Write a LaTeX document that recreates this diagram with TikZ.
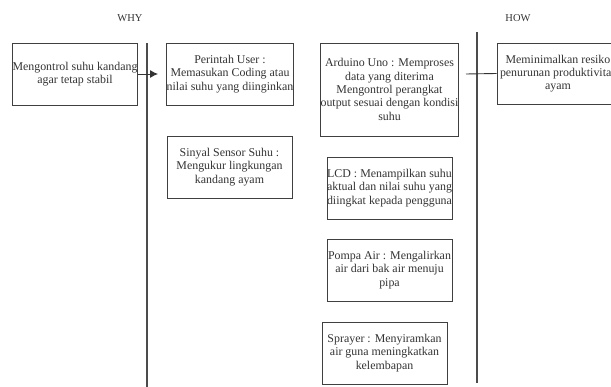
\documentclass[tikz,border=0pt]{standalone}
\usepackage{fontspec}
\setmainfont{Liberation Serif}
\usetikzlibrary{arrows.meta}

\begin{document}
\begin{tikzpicture}
[
  x = 1pt, y = -1pt,
  block/.style   = {shape=rectangle, draw=black!75, line width=0.9pt,
                    align=center, inner sep=0pt, text=black!80,
                    font=\fontsize{11.9}{13.3}\selectfont},
  small/.style   = {block, minimum width=125pt, minimum height=62pt},
  heading/.style = {text=black!80, font=\fontsize{10.5}{12}\selectfont},
  divider/.style = {draw=black!70, line width=1.1pt},
  link/.style    = {draw=black!80, line width=0.9pt}
]
\useasboundingbox (0,0) rectangle (611,387);
\clip (0,0) rectangle (611,387);

% headings
\node [heading] (why) at (130,18) {WHY};
\node [heading] (how) at (518,18) {HOW};

% why column
\node [small, minimum width=124pt] (goal) at (75,74)
  {Mengontrol suhu kandang\\agar tetap stabil};

% what column
\node [small, minimum width=124pt] (user) at (230,74)
  {Perintah User :\\Memasukan Coding atau\\nilai suhu yang diinginkan};
\node [small] (sensor) at (229.5,167)
  {Sinyal Sensor Suhu :\\Mengukur lingkungan\\kandang ayam};
\node [block, minimum width=135pt, minimum height=93pt] (arduino) at (389.5,89.5)
  {Arduino Uno : Memproses\\data yang diterima\\Mengontrol perangkat\\output sesuai dengan kondisi\\suhu};
\node [small] (lcd) at (389.5,188)
  {LCD : Menampilkan suhu\\aktual dan nilai suhu yang\\diingkat kepada pengguna};
\node [small] (pompa) at (389.5,270)
  {Pompa Air : Mengalirkan\\air dari bak air menuju\\pipa};
\node [small] (sprayer) at (384.5,353)
  {Sprayer : Menyiramkan\\air guna meningkatkan\\kelembapan};

% how column
\node [small, minimum width=122pt, minimum height=61pt] (result) at (558,73.5)
  {Meminimalkan resiko\\penurunan produktivitas\\ayam};

% dividers
\coordinate (why top)    at (147,43);
\coordinate (why bottom) at (147,387);
\coordinate (how top)    at (477,32);
\coordinate (how bottom) at (477,383);
\draw [divider] (why top) -- (why bottom);
\draw [divider] (how top) -- (how bottom);

% connectors
\coordinate (goal tip)   at (158,74);
\coordinate (how start)  at (466,74);
\draw [link, -{Latex[length=8pt,width=8pt]}] (goal.east) -- (goal tip);
\draw [link] (how start) -- (result.west);
\end{tikzpicture}
\end{document}
